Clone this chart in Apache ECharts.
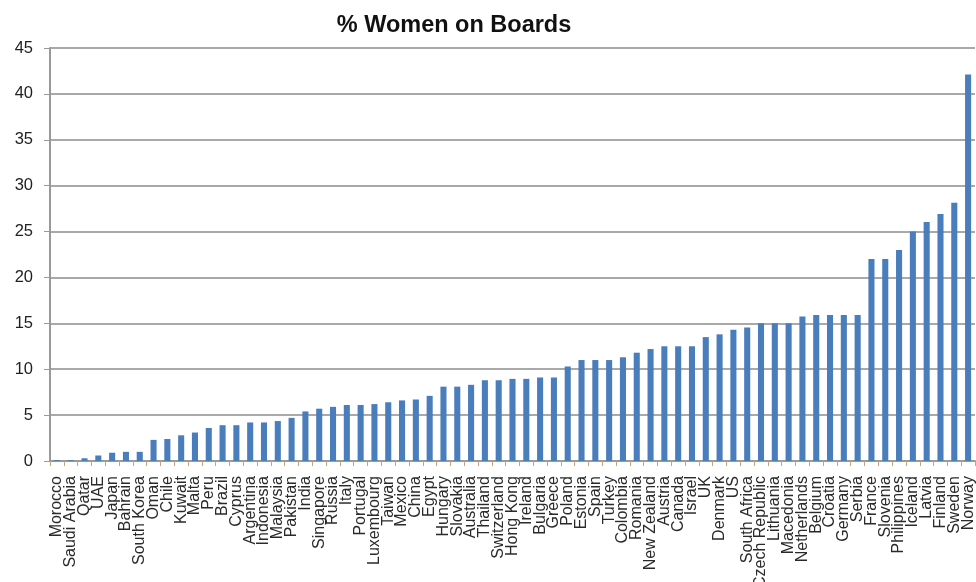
<!DOCTYPE html>
<html>
<head>
<meta charset="utf-8">
<script src="https://cdn.jsdelivr.net/npm/echarts@6/dist/echarts.min.js"></script>
<style>html,body{margin:0;padding:0;background:#fff}#c{width:976px;height:582px}</style>
</head>
<body>
<div id="c"></div>
<script>
const categories = ["Morocco","Saudi Arabia","Qatar","UAE","Japan","Bahrain","South Korea","Oman","Chile","Kuwait","Malta","Peru","Brazil","Cyprus","Argentina","Indonesia","Malaysia","Pakistan","India","Singapore","Russia","Italy","Portugal","Luxembourg","Taiwan","Mexico","China","Egypt","Hungary","Slovakia","Australia","Thailand","Switzerland","Hong Kong","Ireland","Bulgaria","Greece","Poland","Estonia","Spain","Turkey","Colombia","Romania","New Zealand","Austria","Canada","Israel","UK","Denmark","US","South Africa","Czech Republic","Lithuania","Macedonia","Netherlands","Belgium","Croatia","Germany","Serbia","France","Slovenia","Philippines","Iceland","Latvia","Finland","Sweden","Norway"];
const values = [0.1,0.1,0.3,0.6,0.9,1.0,1.0,2.3,2.4,2.8,3.1,3.6,3.9,3.9,4.2,4.2,4.35,4.7,5.4,5.7,5.9,6.1,6.1,6.2,6.4,6.6,6.7,7.1,8.1,8.1,8.3,8.8,8.8,8.95,8.95,9.1,9.1,10.3,11.0,11.0,11.0,11.3,11.8,12.2,12.5,12.5,12.5,13.5,13.8,14.3,14.55,15.0,15.0,15.0,15.75,15.9,15.9,15.9,15.9,22.0,22.0,23.0,25.0,26.05,26.9,28.15,42.1];
const title = "% Women on Boards";

const chart = echarts.init(document.getElementById('c'));
chart.setOption({
  animation: false,
  title: {
    text: title, left: 449, top: 9, textAlign: 'center',
    textStyle: {fontFamily: 'Liberation Sans, Arial', fontSize: 23.5, fontWeight: 'bold', color: '#111'}
  },
  grid: {left: 50, right: 1, top: 48, bottom: 121, containLabel: false, outerBoundsMode: 'none'},
  xAxis: {
    type: 'category', data: categories,
    axisLine: {lineStyle: {color: '#999', width: 2}},
    axisTick: {show: true, lineStyle: {color: '#c8a27a'}, length: 5},
    axisLabel: {rotate: 90, interval: 0, fontSize: 16, color: '#2a2a2a', fontFamily: 'Liberation Sans, Arial', margin: 15}
  },
  yAxis: {
    type: 'value', min: 0, max: 45, interval: 5,
    axisLine: {show: true, lineStyle: {color: '#999', width: 2}},
    axisTick: {show: true, length: 6, lineStyle: {color: '#999'}},
    splitLine: {lineStyle: {color: '#8c8c8c', width: 1.5}},
    axisLabel: {fontSize: 16.5, color: '#222', fontFamily: 'Liberation Sans, Arial', margin: 17}
  },
  series: [{
    type: 'bar', data: values, barCategoryGap: '56%',
    itemStyle: {color: '#4a7dbb'}
  }]
});
</script>
</body>
</html>
